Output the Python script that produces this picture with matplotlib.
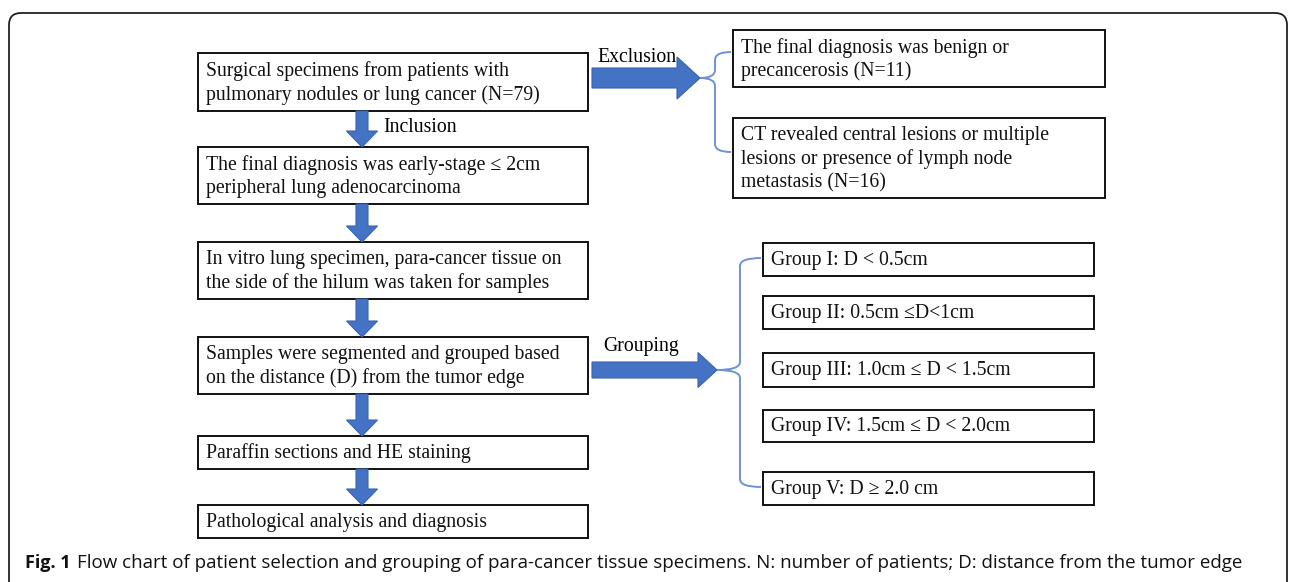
import matplotlib
matplotlib.use("Agg")
import matplotlib.pyplot as plt
from matplotlib.patches import Rectangle, FancyArrow, FancyBboxPatch, PathPatch
from matplotlib.path import Path

# flow chart texts
main_steps = [
    "Surgical specimens from patients with\npulmonary nodules or lung cancer (N=79)",
    "The final diagnosis was early-stage \u2264 2cm\nperipheral lung adenocarcinoma",
    "In vitro lung specimen, para-cancer tissue on\nthe side of the hilum was taken for samples",
    "Samples were segmented and grouped based\non the distance (D) from the tumor edge",
    "Paraffin sections and HE staining",
    "Pathological analysis and diagnosis",
]
excluded = [
    "The final diagnosis was benign or\nprecancerosis (N=11)",
    "CT revealed central lesions or multiple\nlesions or presence of lymph node\nmetastasis (N=16)",
]
groups = [
    "Group I: D < 0.5cm",
    "Group II: 0.5cm \u2264D<1cm",
    "Group III: 1.0cm \u2264 D < 1.5cm",
    "Group IV: 1.5cm \u2264 D < 2.0cm",
    "Group V: D \u2265 2.0 cm",
]
arrow_labels = ["Exclusion", "Inclusion", "Grouping"]
caption_bold = "Fig. 1"
caption = ("Flow chart of patient selection and grouping of para-cancer tissue specimens. "
           "N: number of patients; D: distance from the tumor edge")

# layout in pixels (top, bottom)
main_x = (198, 588)
main_y = [(53, 111), (147, 204), (242, 299), (337, 394), (436, 469), (505, 538)]
excl_x = (733, 1105)
excl_y = [(30, 87), (118, 198)]
grp_x = (763, 1094)
grp_y = [(243, 276), (296, 329), (353, 387), (410, 442), (472, 505)]

BLUE = "#4472C4"
BRACE = "#7092D4"
SERIF = "Liberation Serif"
FS = 14.2

fig = plt.figure(figsize=(12.92, 5.82), dpi=100)
ax = fig.add_axes([0, 0, 1, 1])
ax.set_xlim(0, 1292)
ax.set_ylim(582, 0)
ax.axis("off")

# outer frame
frame = FancyBboxPatch((9, 13), 1278, 600, boxstyle="round,pad=0,rounding_size=12",
                       fc="white", ec="#222222", lw=1.3)
ax.add_patch(frame)


def box(x, y, text):
    ax.add_patch(Rectangle((x[0], y[0]), x[1] - x[0], y[1] - y[0],
                           fc="white", ec="#111111", lw=1.4))
    ax.text(x[0] + 8, (y[0] + y[1]) / 2 + 1, text, fontsize=FS, family=SERIF,
            va="center", ha="left", linespacing=1.27, color="#111111")


def block_arrow(x0, y0, x1, y1, w, hw, hl):
    ax.add_patch(FancyArrow(x0, y0, x1 - x0, y1 - y0, width=w, head_width=hw,
                            head_length=hl, length_includes_head=True,
                            fc=BLUE, ec="#3A63AE", lw=0.8))


def brace(x_tip, x_mid, x_end, y_top, y_mid, y_bot, r=8):
    verts = [(x_end, y_top), (x_mid, y_top), (x_mid, y_top + r),
             (x_mid, y_mid - r), (x_mid, y_mid), (x_tip, y_mid),
             (x_mid, y_mid), (x_mid, y_mid + r),
             (x_mid, y_bot - r), (x_mid, y_bot), (x_end, y_bot)]
    codes = [Path.MOVETO, Path.CURVE3, Path.CURVE3,
             Path.LINETO, Path.CURVE3, Path.CURVE3,
             Path.CURVE3, Path.CURVE3,
             Path.LINETO, Path.CURVE3, Path.CURVE3]
    ax.add_patch(PathPatch(Path(verts, codes), fc="none", ec=BRACE, lw=1.4))


for y, t in zip(main_y, main_steps):
    box(main_x, y, t)
for y, t in zip(excl_y, excluded):
    box(excl_x, y, t)
for y, t in zip(grp_y, groups):
    box(grp_x, y, t)

# down arrows between main steps
cx = 362
for (a, b), (c, d) in zip(main_y[:-1], main_y[1:]):
    block_arrow(cx, b, cx, c, 12, 31, 16)
ax.text(383, 128, arrow_labels[1], fontsize=FS, family=SERIF, va="center", ha="left")

# exclusion arrow and brace
block_arrow(592, 78, 700, 78, 20, 42, 23)
ax.text(597, 57, arrow_labels[0], fontsize=FS, family=SERIF, va="center", ha="left")
brace(700, 715, 731, 52, 78, 152)

# grouping arrow and brace
block_arrow(592, 370, 717, 370, 16, 35, 19)
ax.text(603, 346, arrow_labels[2], fontsize=FS, family=SERIF, va="center", ha="left")
brace(717, 740, 761, 258, 370, 487)

# caption, scaled so it ends where the reference line ends
t1 = ax.text(25, 563, caption_bold, fontsize=13, family="Open Sans", weight="bold",
             va="center", ha="left", color="#111111")
fig.canvas.draw()
bb = t1.get_window_extent()
x_next = ax.transData.inverted().transform((bb.x1, bb.y0))[0] + 6
t2 = ax.text(x_next, 563, caption, fontsize=13, family="Open Sans", va="center", ha="left",
             color="#111111")
fig.canvas.draw()
w = t2.get_window_extent().width
t2.set_fontsize(13 * (1240 - x_next) / w)

fig.savefig("out.png", dpi=100)
